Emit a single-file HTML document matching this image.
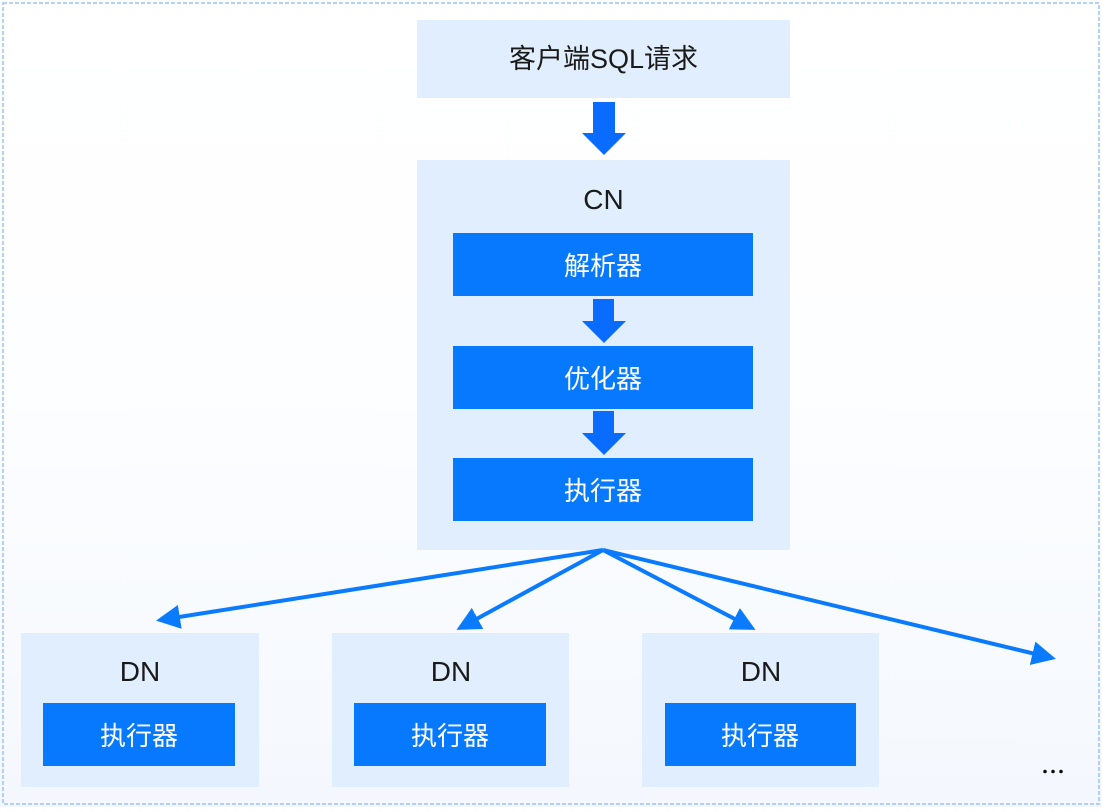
<!DOCTYPE html>
<html><head><meta charset="utf-8"><style>
html,body{margin:0;padding:0;background:#fff;}
body{width:1102px;height:807px;overflow:hidden;}
svg text{font-family:"Liberation Sans","Noto Sans CJK SC",sans-serif;}
</style></head><body>
<svg width="1102" height="807" viewBox="0 0 1102 807" xmlns="http://www.w3.org/2000/svg">
<defs>
<linearGradient id="bg" x1="0" y1="0" x2="0" y2="1">
<stop offset="0" stop-color="#ffffff"/><stop offset="0.45" stop-color="#fdfeff"/><stop offset="1" stop-color="#f4f8fe"/>
</linearGradient>
<marker id="ah" markerWidth="6" markerHeight="6" refX="5" refY="3" orient="auto" markerUnits="strokeWidth">
<path d="M0,0 L6,3 L0,6 Z" fill="#0a7aff"/>
</marker>
</defs>
<rect x="0" y="0" width="1102" height="807" fill="url(#bg)"/>
<rect x="3" y="3" width="1096" height="801" fill="none" stroke="#9cc2fb" stroke-width="1.5" stroke-dasharray="4,2"/>

<rect x="417" y="20" width="373" height="78" fill="#e1eefd"/>
<text x="603.5" y="68" font-size="27" text-anchor="middle" fill="#1a1a1a">客户端SQL请求</text>

<polygon points="593,102 615,102 615,133 626,133 604,155 582,133 593,133" fill="#0a6cff"/>

<rect x="417" y="160" width="373" height="390" fill="#e1eefd"/>
<text x="603.5" y="209" font-size="28" text-anchor="middle" fill="#1a1a1a">CN</text>

<rect x="453" y="233" width="300" height="63" fill="#0679ff"/>
<text x="603" y="275" font-size="26" text-anchor="middle" fill="#fff">解析器</text>
<polygon points="593,299 614,299 614,321 626,321 604,343 582,321 593,321" fill="#0a6cff"/>
<rect x="453" y="346" width="300" height="63" fill="#0679ff"/>
<text x="603" y="388" font-size="26" text-anchor="middle" fill="#fff">优化器</text>
<polygon points="593,411 614,411 614,433 626,433 604,455 582,433 593,433" fill="#0a6cff"/>
<rect x="453" y="458" width="300" height="63" fill="#0679ff"/>
<text x="603" y="500" font-size="26" text-anchor="middle" fill="#fff">执行器</text>

<g stroke="#0a7aff" stroke-width="4" fill="none" marker-end="url(#ah)">
<line x1="603" y1="550" x2="160" y2="620"/>
<line x1="603" y1="550" x2="460" y2="628"/>
<line x1="603" y1="550" x2="752" y2="628"/>
<line x1="603" y1="550" x2="1052" y2="658"/>
</g>

<rect x="21" y="633" width="238" height="154" fill="#e1eefd"/>
<text x="140" y="681" font-size="28" text-anchor="middle" fill="#1a1a1a">DN</text>
<rect x="43" y="703" width="192" height="63" fill="#0679ff"/>
<text x="139" y="745" font-size="26" text-anchor="middle" fill="#fff">执行器</text>

<rect x="332" y="633" width="237" height="154" fill="#e1eefd"/>
<text x="451" y="681" font-size="28" text-anchor="middle" fill="#1a1a1a">DN</text>
<rect x="354" y="703" width="192" height="63" fill="#0679ff"/>
<text x="450" y="745" font-size="26" text-anchor="middle" fill="#fff">执行器</text>

<rect x="642" y="633" width="237" height="154" fill="#e1eefd"/>
<text x="761" y="681" font-size="28" text-anchor="middle" fill="#1a1a1a">DN</text>
<rect x="665" y="703" width="191" height="63" fill="#0679ff"/>
<text x="760" y="745" font-size="26" text-anchor="middle" fill="#fff">执行器</text>

<circle cx="1045" cy="771.5" r="1.8" fill="#111"/>
<circle cx="1053" cy="771.5" r="1.8" fill="#111"/>
<circle cx="1061" cy="771.5" r="1.8" fill="#111"/>
</svg>
</body></html>
